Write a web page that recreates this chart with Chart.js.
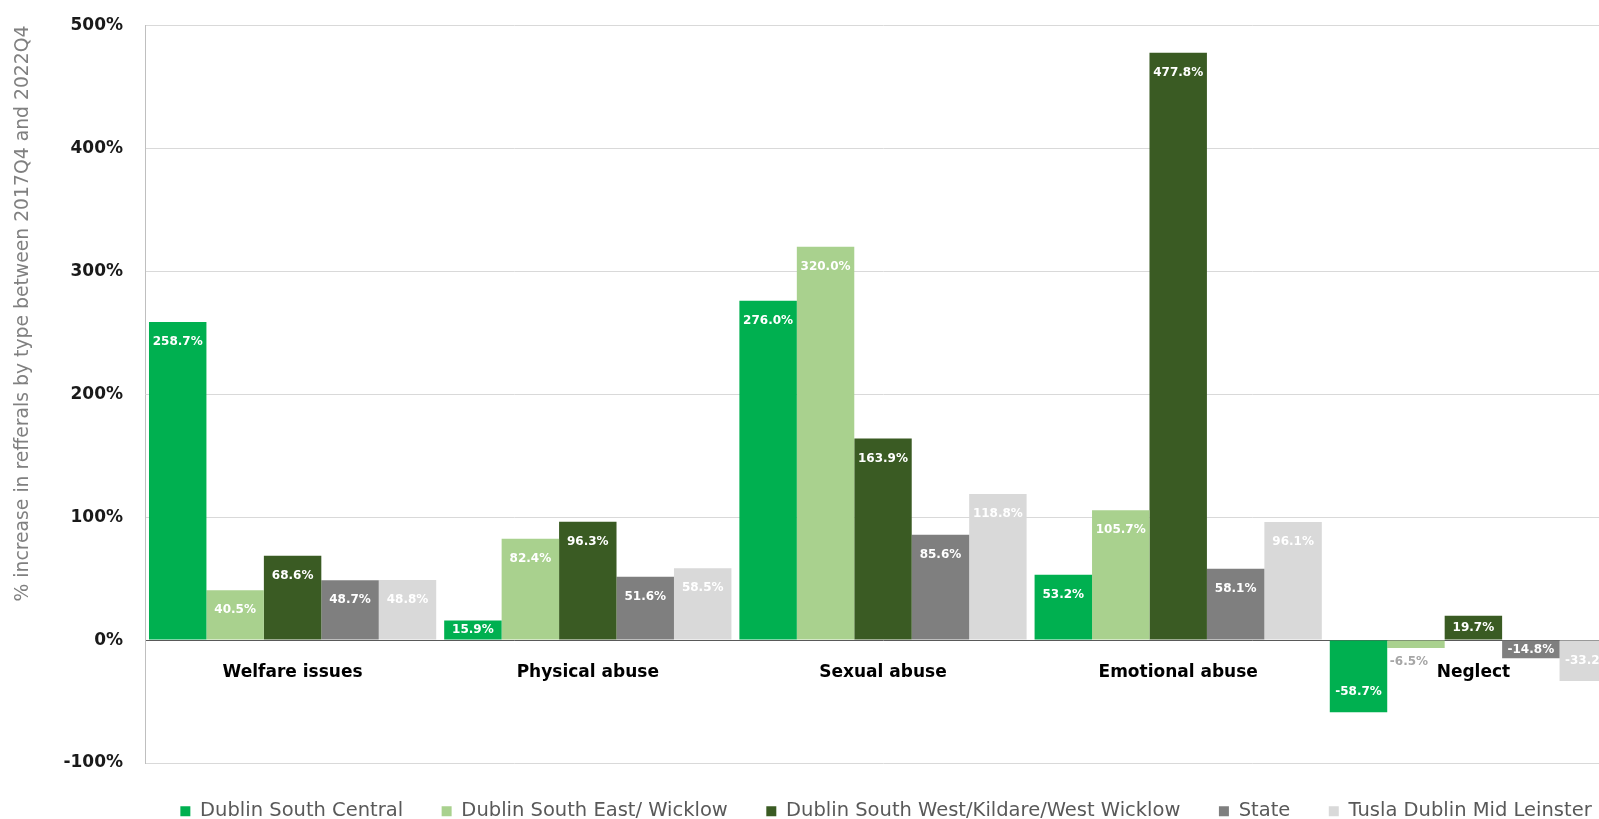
<!DOCTYPE html>
<html>
<head>
<meta charset="utf-8">
<script src="https://cdn.jsdelivr.net/npm/chart.js@4.4.1/dist/chart.umd.min.js"></script>
<style>
  html, body { margin: 0; padding: 0; background: #ffffff; overflow: hidden; }
  #wrap { position: absolute; left: 0; top: 0; width: 1772px; height: 831px; }
</style>
</head>
<body>
<div id="wrap"><canvas id="c" width="1772" height="831"></canvas></div>
<script>
const categories = ['Welfare issues', 'Physical abuse', 'Sexual abuse', 'Emotional abuse', 'Neglect'];
const seriesNames = ['Dublin South Central', 'Dublin South East/ Wicklow', 'Dublin South West/Kildare/West Wicklow', 'State', 'Tusla Dublin Mid Leinster'];
const dublinSouthCentral = [258.7, 15.9, 276.0, 53.2, -58.7];
const dublinSouthEastWicklow = [40.5, 82.4, 320.0, 105.7, -6.5];
const dublinSouthWestKildare = [68.6, 96.3, 163.9, 477.8, 19.7];
const stateValues = [48.7, 51.6, 85.6, 58.1, -14.8];
const tuslaDML = [48.8, 58.5, 118.8, 96.1, -33.2];
const yTicks = [-100, 0, 100, 200, 300, 400, 500];
const yTitle = '% increase in refferals by type between 2017Q4 and 2022Q4';

const colors = ['#00b050', '#a9d18e', '#3a5b23', '#7f7f7f', '#d9d9d9'];
const allSeries = [dublinSouthCentral, dublinSouthEastWicklow, dublinSouthWestKildare, stateValues, tuslaDML];

const FONT = "'DejaVu Sans', sans-serif";

const barLabels = {
  id: 'barLabels',
  afterDatasetsDraw(chart) {
    const ctx = chart.ctx;
    ctx.save();
    ctx.font = 'bold 12px ' + FONT;
    ctx.textAlign = 'center';
    ctx.textBaseline = 'middle';
    chart.data.datasets.forEach((ds, i) => {
      const meta = chart.getDatasetMeta(i);
      meta.data.forEach((bar, j) => {
        const v = ds.data[j];
        const p = bar.getProps(['x', 'y', 'base'], true);
        const h = Math.abs(p.base - p.y);
        const txt = v.toFixed(1) + '%';
        let ty, tx = p.x;
        if (h < 14) {
          ctx.fillStyle = '#a6a6a6';
          ty = v >= 0 ? p.y - 12 : p.y + 14;
          tx = p.x - 7;
        } else {
          ctx.fillStyle = '#ffffff';
          const off = Math.min(20, h / 2);
          ty = v >= 0 ? p.y + off : p.y - off;
        }
        ctx.fillText(txt, tx, ty);
      });
    });
    ctx.restore();
  }
};

new Chart(document.getElementById('c'), {
  type: 'bar',
  data: {
    labels: categories,
    datasets: seriesNames.map((n, i) => ({
      label: n,
      data: allSeries[i],
      backgroundColor: colors[i],
      borderWidth: 0,
      categoryPercentage: 0.973,
      barPercentage: 1.0
    }))
  },
  options: {
    responsive: false,
    animation: false,
    layout: { padding: { top: 25.5, bottom: 0, left: 0, right: 0 } },
    plugins: {
      tooltip: { enabled: false },
      legend: {
        position: 'bottom',
        labels: {
          boxWidth: 10,
          boxHeight: 10,
          padding: 38.5,
          color: '#595959',
          font: { family: FONT, size: 19.5 }
        }
      }
    },
    scales: {
      x: {
        position: { y: 0 },
        grid: { display: true, drawOnChartArea: false, drawTicks: false },
        border: { display: true, color: '#595959', width: 1 },
        ticks: {
          color: '#000000',
          padding: 22,
          autoSkip: false,
          maxRotation: 0,
          font: { family: FONT, size: 17, weight: 'bold' }
        },
        afterFit(s) { s.height = 0; }
      },
      y: {
        position: 'left',
        min: -100,
        max: 500,
        afterBuildTicks(s) { s.ticks = yTicks.map(v => ({ value: v })); },
        grid: { color: '#d9d9d9', lineWidth: 1, drawTicks: false },
        border: { display: true, color: '#bfbfbf', width: 1 },
        ticks: {
          color: '#1a1a1a',
          padding: 22,
          font: { family: FONT, size: 17, weight: 'bold' },
          callback: v => v + '%'
        },
        title: {
          display: true,
          text: yTitle,
          align: 'end',
          color: '#808080',
          padding: { top: 12, bottom: 0 },
          font: { family: FONT, size: 18.8 }
        },
        afterFit(s) { s.width = 145; s.paddingTop = 0; s.paddingBottom = 0; }
      },
      yPad: {
        position: 'right',
        display: true,
        grid: { display: false, drawTicks: false },
        border: { display: false },
        ticks: { display: false },
        afterFit(s) { s.width = 151; s.paddingTop = 0; s.paddingBottom = 0; }
      }
    }
  },
  plugins: [barLabels]
});
</script>
</body>
</html>
